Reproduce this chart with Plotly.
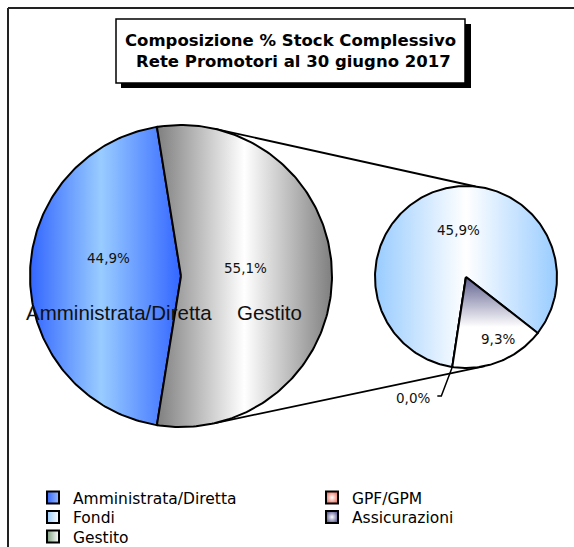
import numpy as np
import plotly.graph_objects as go

# ---------------- data ----------------
main_labels = ["Amministrata/Diretta", "Gestito"]
main_values = [44.9, 55.1]
sub_labels = ["Fondi", "GPF/GPM", "Assicurazioni"]
sub_values = [45.9, 0.0, 9.3]
title_text = "Composizione % Stock Complessivo<br> Rete Promotori al 30 giugno 2017"
# legend layout: (label, column, row)
legend_items = [("Amministrata/Diretta", 0, 0), ("Fondi", 0, 1), ("Gestito", 0, 2),
                ("GPF/GPM", 1, 0), ("Assicurazioni", 1, 1)]

# ---------------- geometry / style (pixels) ----------------
W, H = 574, 547
MAIN_C, MAIN_R = (181.0, 276.0), 151.0
SUB_C, SUB_R = (466.0, 277.0), 91.0
SUB_START = -38.0  # ccw start angle of first secondary slice (deg)

main_fill = [
    dict(type="horizontal", colorscale=[[0, "#3366FF"], [0.47, "#99CCFF"], [1, "#3366FF"]]),
    dict(type="horizontal", colorscale=[[0, "#7F7F7F"], [0.5, "#FFFFFF"], [1, "#7F7F7F"]]),
]
sub_fill = [
    dict(type="horizontal", colorscale=[[0, "#99CCFF"], [0.5, "#FFFFFF"], [1, "#99CCFF"]]),
    dict(type="vertical", colorscale=[[0, "#FFFFFF"], [1, "#F4A6A0"]]),
    dict(type="vertical", colorscale=[[0, "#FFFFFF"], [0.45, "#FFFFFF"], [1, "#5F5F8F"]]),
]
legend_marker = {
    "Amministrata/Diretta": ("#3366FF", "horizontal", "#99BBFF"),
    "Fondi": ("#99CCFF", "horizontal", "#FFFFFF"),
    "Gestito": ("#7F9F7F", "horizontal", "#FFFFFF"),
    "GPF/GPM": ("#F08070", "radial", "#FFFFFF"),
    "Assicurazioni": ("#666699", "radial", "#FFFFFF"),
}
PCT_FONT = dict(family="DejaVu Sans", size=13.5, color="#111111")
NAME_FONT = dict(family="Liberation Sans, Arial", size=20.5, color="#111111")
LEG_FONT = dict(family="DejaVu Sans", size=15.5, color="black")
LEG_COL_X = [33, 312]
LEG_ROW_Y = [498, 517.5, 537]


def fmt(v):
    return f"{v:.1f}".replace(".", ",") + "%"


def wedge(c, r, a0, a1):
    n = max(2, int(abs(a1 - a0)) + 2)
    t = np.radians(np.linspace(a0, a1, n))
    xs = np.concatenate([[c[0]], c[0] + r * np.cos(t), [c[0]]])
    ys = np.concatenate([[c[1]], c[1] - r * np.sin(t), [c[1]]])
    return xs, ys


def pt(c, r, a):
    a = np.radians(a)
    return c[0] + r * np.cos(a), c[1] - r * np.sin(a)


fig = go.Figure()

# connector (series) lines, drawn below the pies
CONN = [(77.0, 84.0), (-77.0, -78.0)]
for am, asub in CONN:
    x0, y0 = pt(MAIN_C, MAIN_R, am)
    x1, y1 = pt(SUB_C, SUB_R, asub)
    fig.add_trace(go.Scatter(x=[x0, x1], y=[y0, y1], mode="lines",
                             line=dict(color="black", width=1.8),
                             hoverinfo="skip", showlegend=False))

# main pie: first slice centred on 180 deg
tot_m = sum(main_values)
start = 180.0 - main_values[0] / tot_m * 180.0
for lab, v, fg in zip(main_labels, main_values, main_fill):
    span = v / tot_m * 360.0
    xs, ys = wedge(MAIN_C, MAIN_R, start, start + span)
    fig.add_trace(go.Scatter(x=xs, y=ys, mode="lines", fill="toself",
                             fillgradient=fg, line=dict(color="black", width=2),
                             name=lab, hoverinfo="skip", showlegend=False))
    start += span

# secondary pie
tot_s = sum(sub_values)
start = SUB_START
sub_angles = []
for lab, v, fg in zip(sub_labels, sub_values, sub_fill):
    span = v / tot_s * 360.0
    xs, ys = wedge(SUB_C, SUB_R, start, start + span)
    fig.add_trace(go.Scatter(x=xs, y=ys, mode="lines", fill="toself",
                             fillgradient=fg, line=dict(color="black", width=2),
                             name=lab, hoverinfo="skip", showlegend=False))
    sub_angles.append((start, start + span))
    start += span

# leader line for the zero slice
a0 = sub_angles[1][0]
ex, ey = pt(SUB_C, SUB_R, a0)
fig.add_trace(go.Scatter(x=[ex, ex - 11, ex - 15], y=[ey, ey + 29, ey + 29], mode="lines",
                         line=dict(color="black", width=1.5), hoverinfo="skip", showlegend=False))

# legend entries (one small legend per entry, for exact placement)
legends = {}
for i, (lab, col, row) in enumerate(legend_items):
    lg = "legend" if i == 0 else f"legend{i + 1}"
    c, gt, gc = legend_marker[lab]
    fig.add_trace(go.Scatter(x=[None], y=[None], mode="markers", name=lab, legend=lg,
                             hoverinfo="skip",
                             marker=dict(symbol="square", size=12, color=c,
                                         gradient=dict(type=gt, color=gc),
                                         line=dict(color="black", width=2))))
    legends[lg] = dict(orientation="h", xanchor="left", yanchor="middle",
                       x=LEG_COL_X[col] / W, y=1 - LEG_ROW_Y[row] / H,
                       bgcolor="rgba(0,0,0,0)", font=LEG_FONT, borderwidth=0)

# data labels
ann = []
main_pct_pos = [(108, 258), (245, 268)]
main_name_pos = [(119, 312), (269, 312)]
for v, lab, p, q in zip(main_values, main_labels, main_pct_pos, main_name_pos):
    ann.append(dict(x=p[0], y=p[1], text=fmt(v), showarrow=False, font=PCT_FONT))
    ann.append(dict(x=q[0], y=q[1], text=lab, showarrow=False, font=NAME_FONT))
sub_pct_pos = [(458, 230), (413, 398), (498, 339)]
for v, p in zip(sub_values, sub_pct_pos):
    ann.append(dict(x=p[0], y=p[1], text=fmt(v), showarrow=False, font=PCT_FONT))

shapes = [
    dict(type="line", xref="paper", yref="paper", x0=8 / W, x1=1.0, y0=1 - 8 / H, y1=1 - 8 / H,
         line=dict(color="#222222", width=2)),
    dict(type="line", xref="paper", yref="paper", x0=8 / W, x1=8 / W, y0=1 - 8 / H, y1=0,
         line=dict(color="#222222", width=2)),
    dict(type="rect", xref="paper", yref="paper", x0=121 / W, x1=471 / W, y0=1 - 24 / H, y1=1 - 88 / H,
         fillcolor="black", line=dict(width=0)),
    dict(type="rect", xref="paper", yref="paper", x0=116 / W, x1=465 / W, y0=1 - 19 / H, y1=1 - 83 / H,
         fillcolor="white", line=dict(color="black", width=1.5)),
]

fig.update_layout(
    width=W, height=H, autosize=False,
    margin=dict(l=0, r=0, t=0, b=0, autoexpand=False),
    paper_bgcolor="white", plot_bgcolor="rgba(0,0,0,0)",
    xaxis=dict(range=[0, W], visible=False, fixedrange=True),
    yaxis=dict(range=[H, 0], visible=False, fixedrange=True),
    title=dict(text=title_text, x=290.5 / W, xanchor="center", y=1 - 46 / H, yanchor="middle",
               font=dict(family="DejaVu Sans", size=16.5, color="black", weight="bold")),
    annotations=ann,
    shapes=shapes,
    **legends,
)

fig.write_html("out.html", config=dict(displayModeBar=False),
               post_script="document.body.style.margin='0px';document.body.style.overflow='hidden';")
